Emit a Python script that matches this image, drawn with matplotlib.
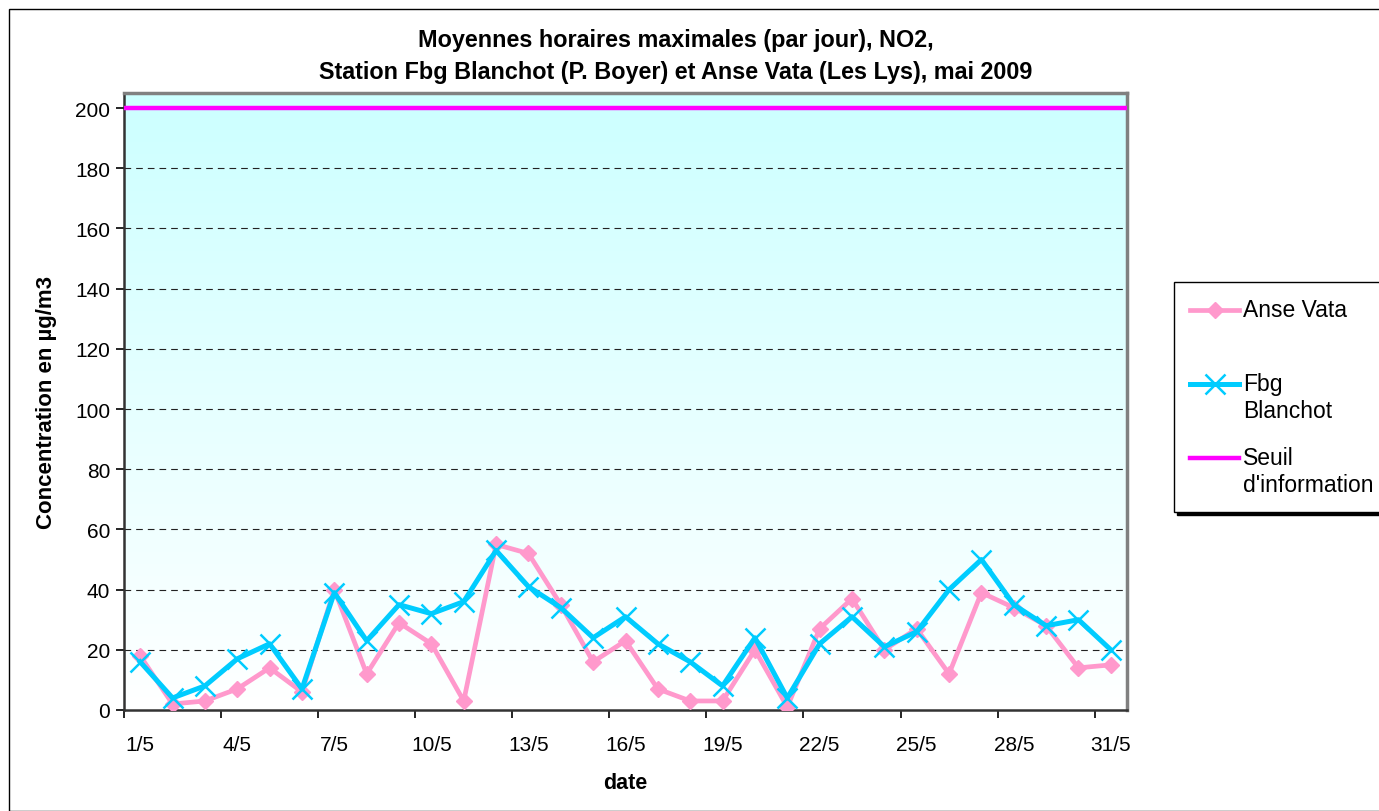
import matplotlib
matplotlib.use("Agg")
import matplotlib.pyplot as plt
from matplotlib.patches import Rectangle
from matplotlib.legend_handler import HandlerLine2D
import numpy as np

plt.rcParams['font.family'] = ['Liberation Sans', 'DejaVu Sans']

# daily maximum hourly means, May 2009
days = [f"{d}/5" for d in range(1, 32)]
anse_vata = [18, 2, 3, 7, 14, 6, 40, 12, 29, 22, 3, 55, 52, 35, 16, 23, 7, 3, 3, 20, 1,
             27, 37, 20, 27, 12, 39, 34, 28, 14, 15]
fbg_blanchot = [16, 4, 8, 17, 22, 7, 39, 23, 35, 32, 36, 53, 41, 34, 24, 31, 22, 16, 8, 24, 4,
                22, 31, 21, 26, 40, 50, 35, 28, 30, 20]
seuil = 200


class FirstLineHandler(HandlerLine2D):
    # put the legend key next to the first line of a two-line label
    def __init__(self, shift, **kw):
        super().__init__(**kw)
        self.shift = shift

    def create_artists(self, legend, orig_handle, xdescent, ydescent, width, height,
                       fontsize, trans):
        arts = super().create_artists(legend, orig_handle, xdescent, ydescent, width,
                                      height, fontsize, trans)
        for a in arts:
            a.set_ydata(np.asarray(a.get_ydata(), dtype=float) + self.shift)
        return arts


W, H = 1379, 812
fig = plt.figure(figsize=(W / 100, H / 100), dpi=100)

# outer chart frame
fig.patches.append(Rectangle((9 / W, 0), 1.0, 1 - 10 / H, transform=fig.transFigure,
                             fill=False, edgecolor='black', linewidth=1.0))

ax = fig.add_axes([124 / W, 1 - 711 / H, (1127 - 124) / W, (711 - 94) / H])

x = np.arange(len(days)) + 0.5
ymax = 205

# vertical gradient background: cyan at top to white at bottom
grad = np.linspace(1, 0, 256).reshape(-1, 1)
top = np.array([0.80, 1.0, 1.0])
bot = np.array([1.0, 1.0, 1.0])
img = bot + (top - bot) * grad[..., None]
ax.imshow(img, extent=[0, len(days), 0, ymax], aspect='auto', zorder=0)

for v in range(20, 200, 20):
    ax.axhline(v, color='#222222', linestyle=(0, (6, 4.5)), linewidth=0.8, zorder=1)

l_seuil = ax.axhline(seuil, color='#ff00ff', linewidth=3.2, zorder=3)
l_anse, = ax.plot(x, anse_vata, color='#ff99cc', linewidth=3.4, marker='D', markersize=8.5,
                  zorder=4)
l_fbg, = ax.plot(x, fbg_blanchot, color='#00ccff', linewidth=3.6, marker='x', markersize=15,
                 markeredgewidth=1.8, zorder=5)

ax.set_xlim(0, len(days))
ax.set_ylim(0, ymax)
ax.set_yticks(range(0, 201, 20))
ax.set_xticks(range(0, 32, 3))
ax.set_xticklabels([])
ax.set_xticks(x[::3], minor=True)
ax.set_xticklabels(days[::3], minor=True)
ax.tick_params(axis='x', which='minor', length=0, pad=18, labelsize=15)
ax.tick_params(axis='x', which='major', length=6, width=1.2, direction='out')
ax.tick_params(axis='y', length=6, width=1.2, direction='out', labelsize=15, pad=4)

for s in ['top', 'right']:
    ax.spines[s].set_color('#808080')
    ax.spines[s].set_linewidth(2.5)
for s in ['left', 'bottom']:
    ax.spines[s].set_color('#333333')
    ax.spines[s].set_linewidth(1.8)

ax.set_xlabel('date', fontsize=15.5, fontweight='bold', labelpad=13)
ax.set_ylabel('Concentration en µg/m3', fontsize=16, fontweight='bold', labelpad=13)

fig.text(676 / W, 1 - 40 / H, 'Moyennes horaires maximales (par jour), NO2,',
         ha='center', va='center', fontsize=16.8, fontweight='bold')
fig.text(676 / W, 1 - 72 / H, 'Station Fbg Blanchot (P. Boyer) et Anse Vata (Les Lys), mai 2009',
         ha='center', va='center', fontsize=16.8, fontweight='bold')

fs = 16.5
hm = FirstLineHandler(0.6 * fs)
leg = fig.legend([l_anse, l_fbg, l_seuil],
                 ['Anse Vata\n ', 'Fbg\nBlanchot', "Seuil\nd'information"],
                 handler_map={l_anse: hm, l_fbg: hm, l_seuil: hm},
                 loc='upper left', bbox_to_anchor=(1174 / W, 1 - 283 / H),
                 fontsize=fs, frameon=True, fancybox=False,
                 shadow={'color': 'black', 'alpha': 1.0},
                 handlelength=2.15, handletextpad=0.15, labelspacing=1.07,
                 borderpad=0.7, borderaxespad=0)
leg.get_frame().set_edgecolor('black')
leg.get_frame().set_linewidth(1.0)

fig.savefig('out.png', dpi=100)
